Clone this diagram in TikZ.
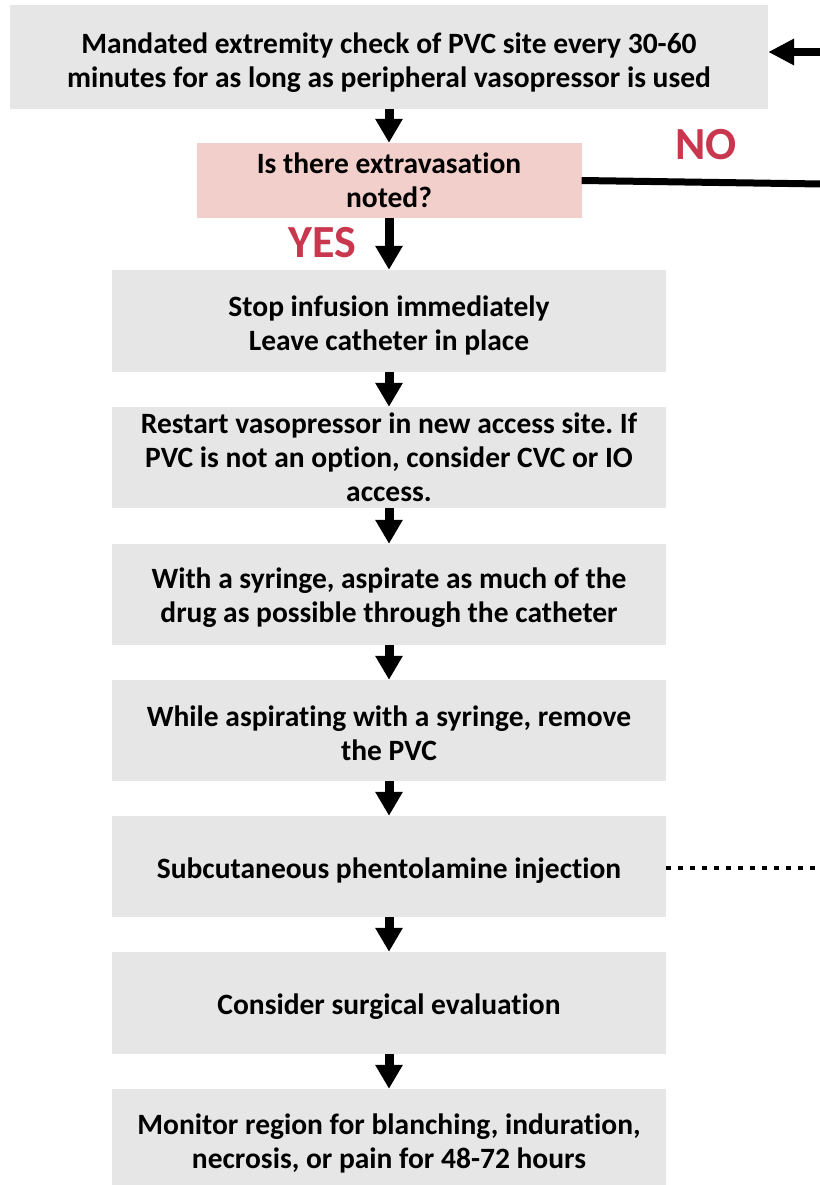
\documentclass[tikz,border=0pt]{standalone}
\usepackage{fontspec}
\setmainfont{Carlito}[Ligatures=NoCommon]
\frenchspacing
\usetikzlibrary{arrows.meta,calc}
\definecolor{boxgray}{HTML}{E6E6E6}
\definecolor{boxpink}{HTML}{F2CFCB}
\definecolor{lblred}{HTML}{C8374E}
\newcommand{\lift}[1]{\rule{0pt}{#1}}
\begin{document}
\begin{tikzpicture}[x=1pt,y=-1pt,
  box/.style={fill=boxgray,draw=none,align=center,inner sep=0pt,
    font=\fontsize{29.5}{34}\selectfont\bfseries},
  decbox/.style={box,fill=boxpink},
  flow/.style={line width=9pt,-{Triangle[width=26pt,length=24pt]}},
  back/.style={line width=8pt,-{Triangle[width=25pt,length=26pt]}},
  noline/.style={line width=7pt},
  dotline/.style={line width=4.5pt,dash pattern=on 4.5pt off 7.5pt},
  lbl/.style={text=lblred,font=\fontsize{46}{50}\selectfont\bfseries,inner sep=0pt}]
\useasboundingbox (0,0) rectangle (819,1185);
\node[box,minimum width=758pt,minimum height=104pt] (top) at (389,57)
  {\lift{33pt}Mandated extremity check of PVC site every 30-60\\minutes for as long as peripheral vasopressor is used};
\node[decbox,minimum width=385pt,minimum height=75pt] (dec) at (389,180.5)
  {Is there extravasation\\noted?};
\node[box,minimum width=554pt,minimum height=102pt] (s1) at (389,321)
  {\lift{29pt}Stop infusion immediately\\Leave catheter in place};
\node[box,minimum width=554pt,minimum height=101pt] (s2) at (389,457.5)
  {Restart vasopressor in new access site. If\\PVC is not an option, consider CVC or IO\\access.};
\node[box,minimum width=554pt,minimum height=101pt] (s3) at (389,594.5)
  {\lift{27pt}With a syringe, aspirate as much of the\\drug as possible through the catheter};
\node[box,minimum width=554pt,minimum height=101pt] (s4) at (389,730.5)
  {\lift{27pt}While aspirating with a syringe, remove\\the PVC};
\node[box,minimum width=554pt,minimum height=101pt] (s5) at (389,866.5)
  {\lift{29pt}Subcutaneous phentolamine injection};
\node[box,minimum width=554pt,minimum height=102pt] (s6) at (389,1003)
  {\lift{28pt}Consider surgical evaluation};
\node[box,minimum width=554pt,minimum height=103pt] (s7) at (389,1140.5)
  {\lift{27pt}Monitor region for blanching, induration,\\necrosis, or pain for 48-72 hours};
\node[lbl] (no) at (706,145) {NO};
\node[lbl] (yes) at (322,243) {YES};
\draw[flow] (top.south) -- (dec.north);
\draw[flow] (dec.south) -- (s1.north);
\draw[flow] (s1.south) -- (s2.north);
\draw[flow] (s2.south) -- (s3.north);
\draw[flow] (s3.south) -- (s4.north);
\draw[flow] (s4.south) -- (s5.north);
\draw[flow] (s5.south) -- (s6.north);
\draw[flow] (s6.south) -- (s7.north);
\coordinate (noend) at (822,184);
\draw[noline] (dec.east) -- (noend);
\coordinate (backin) at (822,52);
\draw[back] (backin) -- (backin -| top.east);
\coordinate (dotend) at (822,868);
\draw[dotline] (s5.east |- dotend) -- (dotend);
\end{tikzpicture}
\end{document}
